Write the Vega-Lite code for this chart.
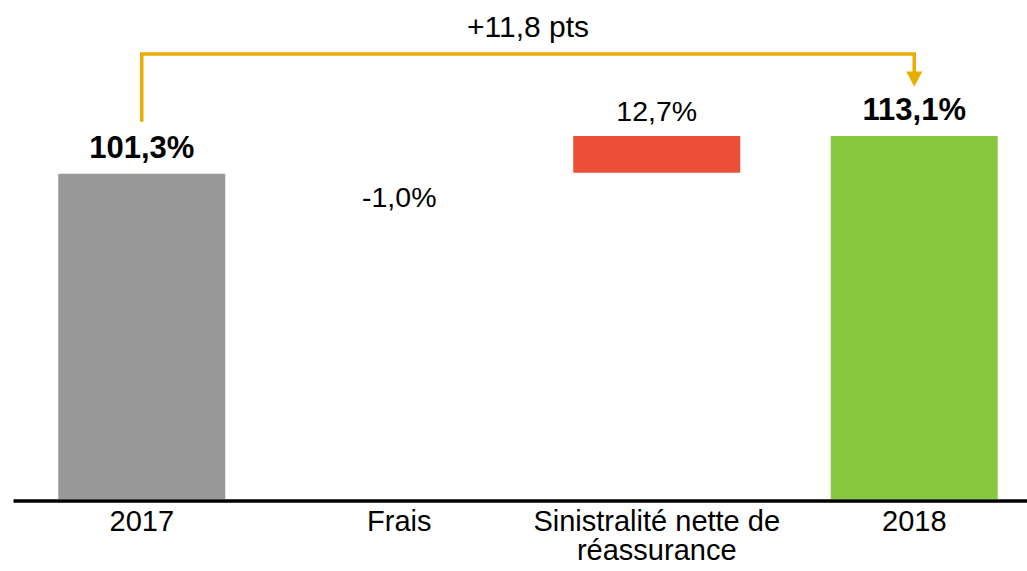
{
  "$schema": "https://vega.github.io/schema/vega-lite/v6.json",
  "width": 1014,
  "height": 499,
  "autosize": {"type": "none"},
  "padding": {"left": 13, "top": 0, "right": 0, "bottom": 72},
  "background": "white",
  "config": {"view": {"stroke": null}, "font": "Liberation Sans", "text": {"font": "Liberation Sans", "color": "black"}},
  "datasets": {
    "bars": [
      {"cat": "2017", "start": 0, "end": 101.3, "label": "101,3%"},
      {"cat": "Frais", "start": 101.3, "end": 100.3, "label": "-1,0%"},
      {"cat": "Sinistralité nette de réassurance", "start": 101.6, "end": 113.1, "label": "12,7%"},
      {"cat": "2018", "start": 0, "end": 113.1, "label": "113,1%"}
    ],
    "arrow": [
      {"cat": "2017", "v": 117.5, "o": 1},
      {"cat": "2017", "v": 138.6, "o": 2},
      {"cat": "2018", "v": 138.6, "o": 3},
      {"cat": "2018", "v": 132, "o": 4}
    ],
    "head": [{"cat": "2018", "v": 130.8}],
    "delta": [{"cat": "Frais", "v": 138.6, "label": "+11,8 pts"}]
  },
  "encoding": {
    "x": {
      "field": "cat",
      "type": "nominal",
      "sort": ["2017", "Frais", "Sinistralité nette de réassurance", "2018"],
      "scale": {
        "domain": ["2017", "Frais", "Sinistralité nette de réassurance", "2018"],
        "range": [0, 1030],
        "paddingInner": 0,
        "paddingOuter": 0
      },
      "axis": {
        "title": null,
        "labelAngle": 0,
        "ticks": false,
        "grid": false,
        "domainColor": "black",
        "domainWidth": 3.5,
        "offset": 1.5,
        "labelFont": "Liberation Sans",
        "labelFontSize": 29,
        "labelColor": "black",
        "labelPadding": 7,
        "labelLineHeight": 29,
        "labelLimit": 500,
        "labelExpr": "datum.value == 'Sinistralité nette de réassurance' ? ['Sinistralité nette de', 'réassurance'] : datum.value"
      }
    }
  },
  "layer": [
    {
      "data": {"name": "bars"},
      "mark": {"type": "bar", "width": {"band": 0.6485}},
      "encoding": {
        "y": {"field": "start", "type": "quantitative", "scale": {"domain": [0, 155.45], "nice": false, "zero": true}, "axis": null},
        "y2": {"field": "end"},
        "color": {
          "field": "cat",
          "type": "nominal",
          "scale": {
            "domain": ["2017", "Frais", "Sinistralité nette de réassurance", "2018"],
            "range": ["#999999", "#FFFFFF", "#EC4F37", "#88C840"]
          },
          "legend": null
        }
      }
    },
    {
      "data": {"name": "bars"},
      "transform": [{"filter": {"field": "cat", "oneOf": ["2017", "2018"]}}],
      "mark": {"type": "text", "fontWeight": "bold", "fontSize": 31, "baseline": "alphabetic", "dy": -16, "color": "black"},
      "encoding": {
        "y": {"field": "end", "type": "quantitative"},
        "text": {"field": "label"}
      }
    },
    {
      "data": {"name": "bars"},
      "transform": [{"filter": {"field": "cat", "equal": "Sinistralité nette de réassurance"}}],
      "mark": {"type": "text", "fontSize": 28.5, "baseline": "alphabetic", "dy": -15, "color": "black"},
      "encoding": {
        "y": {"field": "end", "type": "quantitative"},
        "text": {"field": "label"}
      }
    },
    {
      "data": {"name": "bars"},
      "transform": [{"filter": {"field": "cat", "equal": "Frais"}}],
      "mark": {"type": "text", "fontSize": 28.5, "baseline": "alphabetic", "dy": 30, "color": "black"},
      "encoding": {
        "y": {"field": "end", "type": "quantitative"},
        "text": {"field": "label"}
      }
    },
    {
      "data": {"name": "arrow"},
      "mark": {"type": "line", "color": "#E9AD00", "strokeWidth": 3.5, "strokeCap": "butt", "strokeJoin": "miter"},
      "encoding": {
        "y": {"field": "v", "type": "quantitative"},
        "order": {"field": "o", "type": "quantitative"}
      }
    },
    {
      "data": {"name": "head"},
      "mark": {"type": "point", "filled": true, "shape": "M-1,-0.95L1,-0.95L0,0.95Z", "size": 256, "color": "#E9AD00", "opacity": 1, "strokeWidth": 0},
      "encoding": {
        "y": {"field": "v", "type": "quantitative"}
      }
    },
    {
      "data": {"name": "delta"},
      "mark": {"type": "text", "fontSize": 30, "baseline": "alphabetic", "dy": -17, "color": "black"},
      "encoding": {
        "x": {"field": "cat", "type": "nominal", "bandPosition": 1},
        "y": {"field": "v", "type": "quantitative"},
        "text": {"field": "label"}
      }
    }
  ]
}
